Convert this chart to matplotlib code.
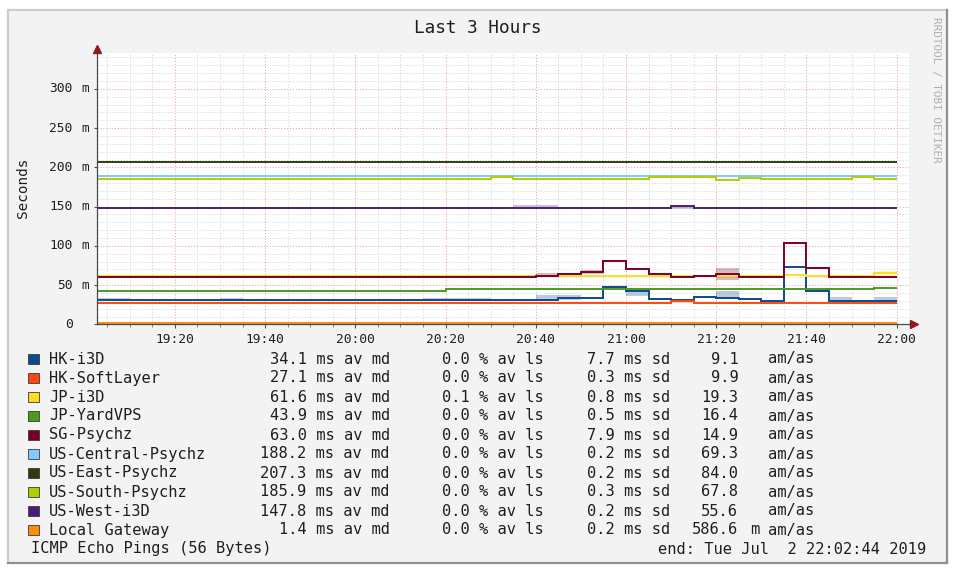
import numpy as np
import matplotlib
matplotlib.use('Agg')
import matplotlib.pyplot as plt
from matplotlib.patches import Rectangle
from matplotlib.lines import Line2D
import matplotlib.transforms as mtransforms

W, H = 954, 570
MONO = 'DejaVu Sans Mono'
TXT = '#1e1e1e'

# ---------------- data ----------------
names = ['HK-i3D', 'HK-SoftLayer', 'JP-i3D', 'JP-YardVPS', 'SG-Psychz',
         'US-Central-Psychz', 'US-East-Psychz', 'US-South-Psychz',
         'US-West-i3D', 'Local Gateway']
colors = ['#0b4a8b', '#ff4610', '#ffdc22', '#4c9a1e', '#7a0022',
          '#80c8ff', '#2f3d0e', '#aed000', '#4a1e78', '#ff8c0a']

# RRD 5-minute steps, bins starting 19:00, 19:05, ... 21:55 (minutes after 19:00)
step_min = 5
view_start = 2 + 44 / 60      # 19:02:44
view_end = 182 + 44 / 60      # 22:02:44

hk_i3d = [31.1, 31.1, 31.1, 31.1, 31.1, 31.1, 31.1, 31.1, 31.1, 31.1,
          31.1, 31.1, 31.1, 31.1, 31.1, 31.1, 31.1, 31.1, 31.1, 31.1,
          31.1, 34.0, 34.0, 48.0, 42.9, 32.0, 31.1, 35.0, 34.0, 32.4,
          30.2, 73.5, 42.9, 30.2, 30.2, 30.2]
hk_softlayer = [27.6, 27.6, 27.6, 27.6, 27.6, 27.6, 27.6, 27.6, 27.6, 27.6,
                27.6, 27.6, 27.6, 27.6, 27.6, 27.6, 27.6, 27.6, 27.6, 27.6,
                27.6, 27.6, 27.6, 27.6, 27.6, 27.6, 29.8, 27.6, 27.6, 27.6,
                27.6, 27.6, 27.6, 27.6, 27.6, 27.6]
jp_i3d = [61.7, 61.7, 61.7, 61.7, 61.7, 61.7, 61.7, 61.7, 61.7, 61.7,
          61.7, 61.7, 61.7, 61.7, 61.7, 61.7, 61.7, 61.7, 61.7, 61.7,
          61.7, 61.7, 61.7, 61.7, 61.7, 61.7, 61.7, 61.7, 61.7, 61.7,
          61.7, 62.9, 61.7, 61.7, 61.7, 65.1]
jp_yardvps = [42.9, 42.9, 42.9, 42.9, 42.9, 42.9, 42.9, 42.9, 42.9, 42.9,
              42.9, 42.9, 42.9, 42.9, 42.9, 42.9, 44.7, 44.7, 44.7, 44.7,
              44.7, 44.7, 44.7, 44.7, 44.7, 44.7, 44.7, 44.7, 44.7, 44.7,
              44.7, 44.7, 44.7, 44.7, 44.7, 46.4]
sg_psychz = [60.0, 60.0, 60.0, 60.0, 60.0, 60.0, 60.0, 60.0, 60.0, 60.0,
             60.0, 60.0, 60.0, 60.0, 60.0, 60.0, 60.0, 60.0, 60.0, 60.0,
             62.0, 64.6, 67.1, 80.8, 70.2, 64.2, 60.0, 61.2, 63.8, 60.4,
             60.4, 103.3, 71.5, 60.0, 60.0, 60.0]
us_central = [189.0, 189.0, 189.0, 189.0, 189.0, 189.0, 189.0, 189.0, 189.0, 189.0,
              189.0, 189.0, 189.0, 189.0, 189.0, 189.0, 189.0, 189.0, 189.0, 189.0,
              189.0, 189.0, 189.0, 189.0, 189.0, 189.0, 189.0, 189.0, 189.0, 189.0,
              189.0, 189.0, 189.0, 189.0, 189.0, 189.0]
us_east = [207.3, 207.3, 207.3, 207.3, 207.3, 207.3, 207.3, 207.3, 207.3, 207.3,
           207.3, 207.3, 207.3, 207.3, 207.3, 207.3, 207.3, 207.3, 207.3, 207.3,
           207.3, 207.3, 207.3, 207.3, 207.3, 207.3, 207.3, 207.3, 207.3, 207.3,
           207.3, 207.3, 207.3, 207.3, 207.3, 207.3]
us_south = [185.4, 185.4, 185.4, 185.4, 185.4, 185.4, 185.4, 185.4, 185.4, 185.4,
            185.4, 185.4, 185.4, 185.4, 185.4, 185.4, 185.4, 185.4, 187.4, 185.4,
            185.4, 185.4, 185.4, 185.4, 185.4, 187.4, 187.4, 187.4, 184.4, 187.0,
            185.4, 185.4, 185.4, 185.4, 187.4, 185.4]
us_west = [147.9, 147.9, 147.9, 147.9, 147.9, 147.9, 147.9, 147.9, 147.9, 147.9,
           147.9, 147.9, 147.9, 147.9, 147.9, 147.9, 147.9, 147.9, 147.9, 147.9,
           147.9, 147.9, 147.9, 147.9, 147.9, 147.9, 150.4, 147.9, 147.9, 147.9,
           147.9, 147.9, 147.9, 147.9, 147.9, 147.9]
local_gw = [1.4, 1.4, 1.4, 1.4, 1.4, 1.4, 1.4, 1.4, 1.4, 1.4,
            1.4, 1.4, 1.4, 1.4, 1.4, 1.4, 1.4, 1.4, 1.4, 1.4,
            1.4, 1.4, 1.4, 1.4, 1.4, 1.4, 1.4, 1.4, 1.4, 1.4,
            1.4, 1.4, 1.4, 1.4, 1.4, 1.4]
series = [hk_i3d, hk_softlayer, jp_i3d, jp_yardvps, sg_psychz,
          us_central, us_east, us_south, us_west, local_gw]

# smoke bands: (series index, first bin, last bin exclusive, low ms, high ms)
bands = [(0, 0, 2, 31.1, 34.0), (0, 6, 7, 31.1, 34.0), (0, 15, 18, 31.1, 34.0),
         (0, 20, 22, 31.1, 37.0), (0, 24, 25, 36.0, 43.0), (0, 28, 29, 34.5, 42.0),
         (0, 33, 34, 30.2, 35.5), (0, 35, 36, 30.2, 35.5),
         (1, 26, 27, 27.6, 31.0),
         (2, 35, 36, 61.0, 67.5),
         (4, 20, 22, 60.0, 66.0), (4, 22, 23, 64.0, 69.0), (4, 28, 29, 56.5, 71.5),
         (6, 2, 3, 205.5, 207.3), (6, 24, 25, 205.5, 207.3), (6, 34, 35, 205.5, 207.3),
         (8, 6, 7, 147.9, 149.8), (8, 9, 10, 147.9, 149.8), (8, 19, 21, 147.9, 151.5),
         (8, 26, 27, 147.5, 150.4)]

avg_ms = [34.1, 27.1, 61.6, 43.9, 63.0, 188.2, 207.3, 185.9, 147.8, 1.4]
loss_pct = [0.0, 0.0, 0.1, 0.0, 0.0, 0.0, 0.0, 0.0, 0.0, 0.0]
sd_ms = [7.7, 0.3, 0.8, 0.5, 7.9, 0.2, 0.2, 0.3, 0.2, 0.2]
am_as = [9.1, 9.9, 19.3, 16.4, 14.9, 69.3, 84.0, 67.8, 55.6, 0.5866]

x_ticks = [20, 40, 60, 80, 100, 120, 140, 160, 180]
x_tick_labels = ['19:20', '19:40', '20:00', '20:20', '20:40', '21:00',
                 '21:20', '21:40', '22:00']
y_ticks = [0, 50, 100, 150, 200, 250, 300]
y_max = 345.7

title = 'Last 3 Hours'
y_label = 'Seconds'
footer_left = 'ICMP Echo Pings (56 Bytes)'
footer_right = 'end: Tue Jul  2 22:02:44 2019'
watermark = 'RRDTOOL / TOBI OETIKER'

# ---------------- figure ----------------
fig = plt.figure(figsize=(W / 100, H / 100), dpi=100, facecolor='white')


def fx(px):
    return px / W


def fy(py):
    return 1 - py / H


# frame
fig.patches.append(Rectangle((fx(8), fy(563)), fx(947) - fx(8), fy(10) - fy(563),
                             transform=fig.transFigure, facecolor='#f3f3f3',
                             edgecolor='none', zorder=-10))
for (x0, y0, x1, y1, c) in [(8, 10, 947, 10, '#cdcdcd'), (8, 10, 8, 563, '#cdcdcd'),
                            (8, 563, 947, 563, '#8f8f8f'), (947, 10, 947, 563, '#8f8f8f')]:
    fig.add_artist(Line2D([fx(x0), fx(x1)], [fy(y0), fy(y1)], transform=fig.transFigure,
                          color=c, lw=1.6, zorder=-5))

ax = fig.add_axes([fx(97), fy(324.4), fx(909) - fx(97), fy(53) - fy(324.4)])
ax.set_zorder(1)
ax.set_facecolor('white')
ax.set_xlim(view_start, view_end)
ax.set_ylim(0, y_max)
ax.set_axisbelow(True)

edges = np.arange(len(hk_i3d) + 1) * step_min

for (si, a, b, lo, hi) in bands:
    ax.fill_between([edges[a], edges[b]], [lo, lo], [hi, hi], color=colors[si],
                    alpha=0.28, lw=0, zorder=2 + si * 0.1)

for i, vals in enumerate(series):
    ax.stairs(vals, edges, baseline=None, color=colors[i], lw=1.4, zorder=3 + i * 0.1)

# ticks / grid
ax.set_xticks(x_ticks)
ax.set_xticklabels(x_tick_labels, fontfamily=MONO, fontsize=9.3, color=TXT)
ax.set_xticks(np.arange(5, 185, 5), minor=True)
ax.set_yticks(y_ticks)
ax.set_yticklabels([])
ax.set_yticks(np.arange(10, 350, 10), minor=True)
ax.tick_params(axis='x', which='major', direction='out', length=2.8, width=0.8,
               color='#505050', pad=3.6)
ax.tick_params(axis='x', which='minor', direction='out', length=2.0, width=0.6,
               color='#707070')
ax.tick_params(axis='y', which='major', direction='out', length=2.5, width=0.8,
               color='#505050')
ax.tick_params(axis='y', which='minor', length=0)
ax.grid(which='minor', color='#d6d6d6', lw=0.7, linestyle=(0, (1.2, 1.8)))
ax.grid(which='major', color='#f0a4a4', lw=0.7, linestyle=(0, (1.2, 1.8)))

for s in ['top', 'right']:
    ax.spines[s].set_visible(False)
for s in ['left', 'bottom']:
    ax.spines[s].set_color('#4a4a4a')
    ax.spines[s].set_linewidth(0.9)
    ax.spines[s].set_zorder(6)

# axis arrows
ax.plot([0, 0], [1, 1.015], transform=ax.transAxes, color='#4a4a4a', lw=0.9,
        clip_on=False, zorder=6)
ax.plot([0], [1.016], marker='^', ms=5.5, color='#8e1c1c', transform=ax.transAxes,
        clip_on=False, zorder=7, mec='#8e1c1c')
ax.plot([1, 1.004], [0, 0], transform=ax.transAxes, color='#4a4a4a', lw=0.9,
        clip_on=False, zorder=6)
ax.plot([1.0062], [0], marker='>', ms=5.5, color='#8e1c1c', transform=ax.transAxes,
        clip_on=False, zorder=7, mec='#8e1c1c')

# y tick labels  ("%3.0f %s" style)
ytr = mtransforms.blended_transform_factory(fig.transFigure, ax.transData)
for v in y_ticks:
    fig.text(fx(72.7), v, f'{v:.0f}', transform=ytr, ha='right', va='center',
             fontfamily=MONO, fontsize=9.3, color=TXT)
    if v != 0:
        fig.text(fx(81.5), v, 'm', transform=ytr, ha='left', va='center',
                 fontfamily=MONO, fontsize=9.3, color=TXT)

# texts
fig.text(fx(477.5), fy(28), title, ha='center', va='center', fontfamily=MONO,
         fontsize=12.8, color=TXT)
fig.text(fx(23), fy(188), y_label, rotation=90, ha='center', va='center',
         fontfamily=MONO, fontsize=10.3, color=TXT)
fig.text(fx(936), fy(90), watermark, rotation=-90, ha='center', va='center',
         fontfamily=MONO, fontsize=7.9, color='#b0b0b0')

# legend
LFS = 11.1
row_y0, row_dy = 359, 19.0
for i, name in enumerate(names):
    yy = fy(row_y0 + i * row_dy)
    fig.patches.append(Rectangle((fx(28.5), yy - 5 / H), 10 / W, 10 / H,
                                 transform=fig.transFigure, facecolor=colors[i],
                                 edgecolor='#3a3a3a', lw=0.6, zorder=3))
    fig.text(fx(49), yy, name, ha='left', va='center', fontfamily=MONO,
             fontsize=LFS, color=TXT)
    fig.text(fx(390), yy, f'{avg_ms[i]:.1f} ms av md', ha='right', va='center',
             fontfamily=MONO, fontsize=LFS, color=TXT)
    fig.text(fx(543.3), yy, f'{loss_pct[i]:.1f} % av ls', ha='right', va='center',
             fontfamily=MONO, fontsize=LFS, color=TXT)
    fig.text(fx(670), yy, f'{sd_ms[i]:.1f} ms sd', ha='right', va='center',
             fontfamily=MONO, fontsize=LFS, color=TXT)
    v = am_as[i]
    if v < 1:
        num, pre = f'{v * 1000:.1f}', 'm'
    else:
        num, pre = f'{v:.1f}', ''
    fig.text(fx(738.3), yy, num, ha='right', va='center', fontfamily=MONO,
             fontsize=LFS, color=TXT)
    if pre:
        fig.text(fx(750), yy, pre, ha='left', va='center', fontfamily=MONO,
                 fontsize=LFS, color=TXT)
    fig.text(fx(768.3), yy, 'am/as', ha='left', va='center', fontfamily=MONO,
             fontsize=LFS, color=TXT)

fy_last = fy(row_y0 + len(names) * row_dy)
fig.text(fx(30.7), fy_last, footer_left, ha='left', va='center', fontfamily=MONO,
         fontsize=LFS, color=TXT)
fig.text(fx(926), fy_last, footer_right, ha='right', va='center', fontfamily=MONO,
         fontsize=LFS, color=TXT)

fig.savefig('out.png', dpi=100, facecolor='white')
